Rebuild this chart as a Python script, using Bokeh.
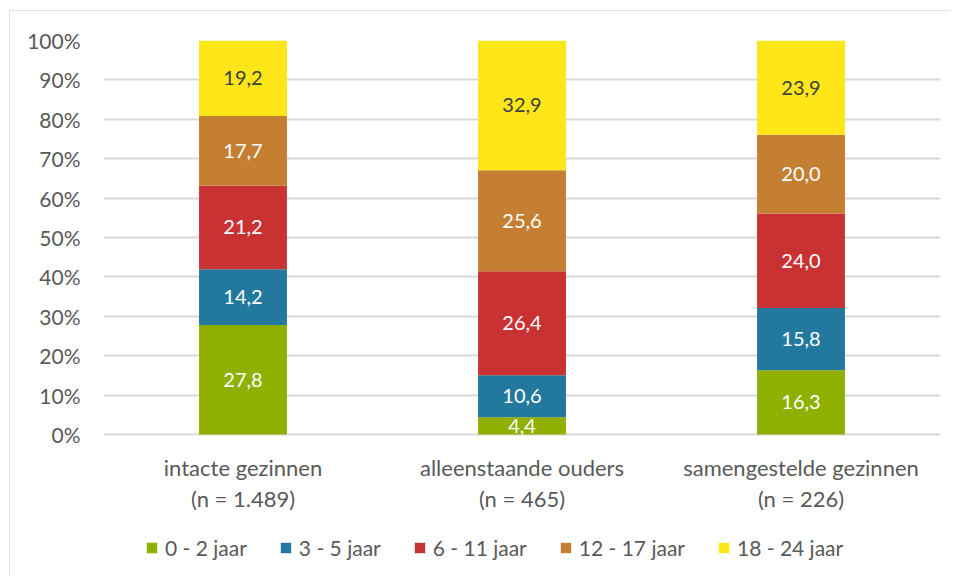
from bokeh.plotting import figure
from bokeh.models import (FactorRange, Range1d, ColumnDataSource, Legend, LegendItem,
                          FixedTicker)
from bokeh.core.properties import value
from bokeh.embed import file_html
from bokeh.resources import INLINE

categories = ["intacte gezinnen", "alleenstaande ouders", "samengestelde gezinnen"]
n_labels = ["(n = 1.489)", "(n = 465)", "(n = 226)"]
series = ["0 - 2 jaar", "3 - 5 jaar", "6 - 11 jaar", "12 - 17 jaar", "18 - 24 jaar"]
v_0_2 = [27.8, 4.4, 16.3]
v_3_5 = [14.2, 10.6, 15.8]
v_6_11 = [21.2, 26.4, 24.0]
v_12_17 = [17.7, 25.6, 20.0]
v_18_24 = [19.2, 32.9, 23.9]
y_ticks = [0, 10, 20, 30, 40, 50, 60, 70, 80, 90, 100]
colors = ["#8fb000", "#23789e", "#c83232", "#c57f33", "#ffe619"]
label_colors = ["white", "white", "white", "white", "#404040"]

values = [v_0_2, v_3_5, v_6_11, v_12_17, v_18_24]
totals = [sum(v[i] for v in values) for i in range(len(categories))]
keys = ["s%d" % k for k in range(len(series))]
data = {"cat": categories}
for k, v in zip(keys, values):
    data[k] = [v[i] / totals[i] * 100 for i in range(len(categories))]
source = ColumnDataSource(data)

FONT = "Lato"
TXT = "#595959"
# frame extends below the 0% line so that category labels and legend sit inside it
p = figure(frame_width=837, frame_height=530,
           x_range=FactorRange(*categories, range_padding=0),
           y_range=Range1d(-34.52, 100), output_backend="svg", toolbar_location=None,
           min_border_left=94, min_border_right=10, min_border_top=30, min_border_bottom=5)
p.styles = {"outline": "1px solid #d9d9d9", "outline-offset": "-1px",
            "margin-left": "9px", "margin-top": "10px"}
p.outline_line_color = None

rs = p.vbar_stack(keys, x="cat", width=0.315, color=colors, line_color=None, source=source)

for idx, (k, v) in enumerate(zip(keys, values)):
    ys, xs, txt = [], [], []
    for i, c in enumerate(categories):
        below = sum(data[kk][i] for kk in keys[:idx])
        ys.append(below + data[k][i] / 2)
        xs.append(c)
        txt.append(("%.1f" % v[i]).replace(".", ","))
    p.text(x=xs, y=ys, text=txt, text_align="center", text_baseline="middle",
           text_color=label_colors[idx], text_font=value(FONT), text_font_size="20px")

# category labels (two lines) below the 0% line
p.text(x=categories, y=[0] * len(categories), text=categories, y_offset=33,
       text_align="center", text_baseline="middle", text_color=TXT,
       text_font=value(FONT), text_font_size="22px")
p.text(x=categories, y=[0] * len(categories), text=n_labels, y_offset=64,
       text_align="center", text_baseline="middle", text_color=TXT,
       text_font=value(FONT), text_font_size="22px")

p.yaxis.ticker = FixedTicker(ticks=y_ticks)
p.yaxis.major_label_overrides = {t: "%d%%" % t for t in y_ticks}
p.yaxis.axis_line_color = None
p.yaxis.major_tick_line_color = None
p.yaxis.major_tick_out = 0
p.yaxis.minor_tick_line_color = None
p.yaxis.major_label_standoff = 23
p.yaxis.major_label_text_font = FONT
p.yaxis.major_label_text_font_size = "21px"
p.yaxis.major_label_text_color = TXT

p.xaxis.visible = False
p.xgrid.grid_line_color = None
p.ygrid.ticker = FixedTicker(ticks=y_ticks)
p.ygrid.grid_line_color = "#d9d9d9"
p.ygrid.grid_line_width = 2

legend = Legend(items=[LegendItem(label=s, renderers=[r]) for s, r in zip(series, rs)],
                orientation="horizontal", location=(42, 10),
                label_text_font=FONT, label_text_font_size="21px", label_text_color=TXT,
                glyph_width=13, glyph_height=13, label_standoff=7, spacing=32,
                border_line_color=None, background_fill_alpha=0, margin=0, padding=0)
p.add_layout(legend, "center")

open("out.html", "w").write(file_html(p, INLINE))
